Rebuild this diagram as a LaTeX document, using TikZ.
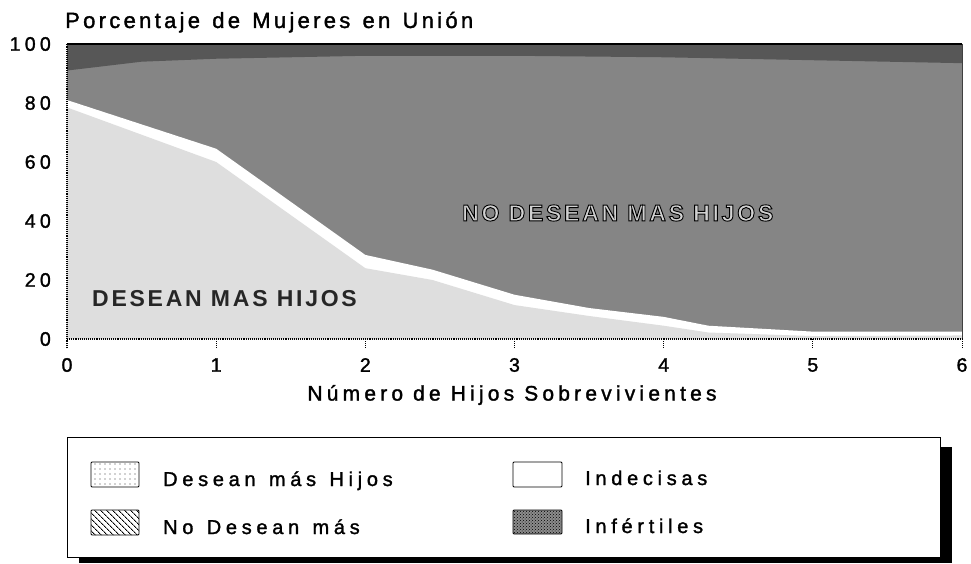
\documentclass[tikz,border=0pt]{standalone}
\usepackage{fontspec}
\setmainfont{Liberation Sans}[LetterSpace=22, FakeBold=1.5]
\newfontfamily\titlefont{Liberation Sans}[LetterSpace=15, WordSpace=1.3, FakeBold=1.5]
\newfontfamily\axfont{Liberation Sans}[LetterSpace=20, FakeBold=1.5]
\newfontfamily\legfont{Liberation Sans}[LetterSpace=23.5, WordSpace=1.3, FakeBold=1.5]
\newfontfamily\lblfont{Liberation Sans}[LetterSpace=12]
\newfontfamily\lblfontO{Liberation Sans}[LetterSpace=12, FakeBold=4]
\usetikzlibrary{patterns,patterns.meta}
\definecolor{deseanc}{gray}{0.87}
\definecolor{nodeseanc}{gray}{0.52}
\definecolor{infertc}{gray}{0.34}
\tikzset{
  txt/.style={font=\fontsize{19.5}{24}\selectfont, inner sep=0pt},
  legtxt/.style={font=\legfont\fontsize{20}{24}\selectfont, inner sep=0pt, anchor=base west},
  ylab/.style={txt, anchor=east},
  xlab/.style={txt, anchor=center},
  biglab/.style={font=\lblfont\bfseries\fontsize{23}{27}\selectfont, inner sep=0pt, anchor=west, text=black!85},
  outlab/.style={font=\lblfontO\bfseries\fontsize{23}{27}\selectfont, inner sep=0pt, anchor=west, text=black!18},
  swatch/.style={draw=black, line width=0.8pt, rounded corners=1pt},
  axisline/.style={black, line width=1.1pt, densely dotted},
}
\begin{document}
\begin{tikzpicture}[x=1pt,y=-1pt]
\useasboundingbox (0,0) rectangle (971,564);

% title
\node[inner sep=0pt, font=\titlefont\fontsize{22}{26}\selectfont, anchor=base west] (title) at (65,28) {Porcentaje de Mujeres en Unión};

% chart in data coordinates
\begin{scope}[shift={(67,339)}, x=149.17pt, y=2.95pt]
  \fill[nodeseanc] (0,0) rectangle (6,100);
  \fill[infertc] (0,100) -- (0,91) -- (0.5,94) -- (1,95) -- (2,96) -- (3,96)
       -- (4,95.5) -- (5,94.5) -- (6,93.5) -- (6,100) -- cycle;
  \fill[white] (0,0) -- (0,81) -- (1,64.5) -- (2,28.5) -- (2.45,23.5) -- (3,15)
       -- (3.5,10.5) -- (4,7.5) -- (4.3,4.5) -- (5,2.5) -- (6,2.5) -- (6,0) -- cycle;
  \fill[deseanc] (0,0) -- (0,78.5) -- (1,60) -- (2,24) -- (2.45,20) -- (3,11.5)
       -- (3.5,7.8) -- (4,4.5) -- (4.3,2.2) -- (5,1) -- (6,1.2) -- (6,0) -- cycle;
  \draw[black, line width=1.4pt] (0,100) -- (6,100);
  \draw[black!75, line width=1pt] (6,0) -- (6,100);
  \draw[axisline] (0,-3) -- (0,100);
  \draw[axisline] (0,0) -- (6,0);
  \foreach \i in {1,...,6} { \draw[axisline, line width=0.8pt] (\i,0) -- (\i,-3); }

  \foreach \v in {0,20,...,100} { \node[ylab] (y\v) at ([xshift=-16pt]0,\v) {\v}; }
  \foreach \i in {0,...,6} { \node[xlab] (x\i) at ([yshift=-26pt]\i,0) {\i}; }
\end{scope}

\node[biglab] (lblA) at (92,299) {DESEAN MAS HIJOS};
\node[outlab] (lblB) at (462,213) {\special{pdf:literal direct 0 G}NO DESEAN MAS HIJOS};

\node[inner sep=0pt, font=\axfont\fontsize{21}{25}\selectfont] (xtitle) at (512,395) {Número de Hijos Sobrevivientes};

% legend
\fill[black] (79,447) rectangle (952,563);
\draw[fill=white, line width=0.8pt] (67,437) rectangle (940,557);

\draw[swatch, fill=white] (91,462) rectangle (139,487);
\fill[pattern={Dots[distance=5pt, radius=0.55pt]}, pattern color=black!75] (92,463) rectangle (138,486);
\draw[swatch, pattern={Lines[angle=-45, distance=4pt, line width=0.9pt]}] (91,510) rectangle (139,535);
\draw[swatch, fill=white] (513,462) rectangle (562,487);
\draw[swatch, fill=black!45] (513,510) rectangle (562,534);
\fill[pattern=crosshatch dots, pattern color=black] (514,511) rectangle (561,533);

\node[legtxt] (l1) at (163,486) {Desean más Hijos};
\node[legtxt] (l2) at (163,534) {No Desean más};
\node[legtxt] (l3) at (585,485) {Indecisas};
\node[legtxt] (l4) at (585,533) {Infértiles};
\end{tikzpicture}
\end{document}
